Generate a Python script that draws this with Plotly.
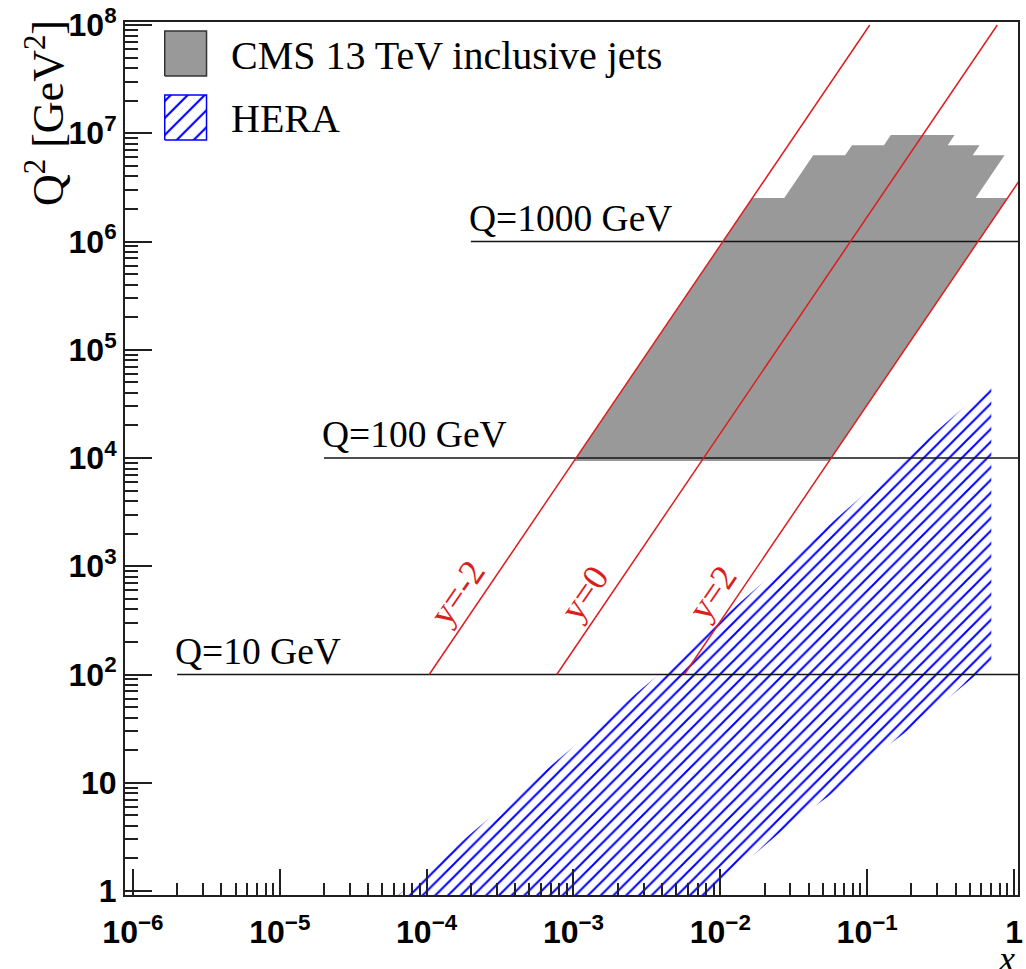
import numpy as np
import plotly.graph_objects as go

# ---------------------------------------------------------------- inputs
SQRT_S = 13000.0  # GeV, pp centre-of-mass energy

# CMS 13 TeV inclusive jets: |y| slice edges, lowest pT edge, highest pT edge per slice
cms_abs_y_edges = [0.0, 0.5, 1.0, 1.5, 2.0]
cms_pt_min = 97.0
cms_pt_max = [3103.0, 2787.0, 2500.0, 1588.0]

# HERA kinematic coverage outline
hera_x = [6.0e-5, 3.8e-3, 1.05e-2, 0.70, 0.70, 0.52, 0.26, 0.12, 0.058, 0.027, 0.0135, 0.0087, 0.0076]
hera_q2 = [0.85, 100.0, 340.0, 4.9e4, 123.0, 93.0, 42.0, 19.0, 8.0, 3.7, 1.67, 1.0, 0.85]

# fixed-scale reference lines
q_ref = [10, 100, 1000]
q_ref_xmin = [2e-6, 2e-5, 2e-4]
q_ref_xmax = 1.2

# jet-rapidity reference lines
y_ref = [-2, 0, 2]
y_ref_q2 = [1e2, 1e8]
y_label_q2 = 490.0

# axis ticks
x_tickvals = [1e-6, 1e-5, 1e-4, 1e-3, 1e-2, 1e-1, 1]
x_ticktext = ["10<sup>\u22126</sup>", "10<sup>\u22125</sup>", "10<sup>\u22124</sup>",
              "10<sup>\u22123</sup>", "10<sup>\u22122</sup>", "10<sup>\u22121</sup>", "1"]
y_tickvals = [1, 10, 1e2, 1e3, 1e4, 1e5, 1e6, 1e7, 1e8]
y_ticktext = ["1", "10", "10<sup>2</sup>", "10<sup>3</sup>", "10<sup>4</sup>",
              "10<sup>5</sup>", "10<sup>6</sup>", "10<sup>7</sup>", "10<sup>8</sup>"]


def x_of(q2, y):
    """Parton momentum fraction at scale Q^2 for jet rapidity y."""
    return np.sqrt(q2) / SQRT_S * np.exp(y)


def cms_outline():
    ymax = cms_abs_y_edges[-1]
    q2min = cms_pt_min ** 2
    pts = [(-ymax, q2min), (ymax, q2min)]
    n = len(cms_pt_max)
    # forward side, outermost slice first
    for i in range(n - 1, -1, -1):
        q2 = cms_pt_max[i] ** 2
        pts.append((cms_abs_y_edges[i + 1], q2))
        pts.append((cms_abs_y_edges[i], q2))
    # backward side, central slice first
    for i in range(n):
        q2 = cms_pt_max[i] ** 2
        pts.append((-cms_abs_y_edges[i], q2))
        pts.append((-cms_abs_y_edges[i + 1], q2))
    pts.append((-ymax, q2min))
    xs = [x_of(q, y) for y, q in pts]
    qs = [q for _, q in pts]
    return xs, qs


def minor_log(lo, hi):
    vals = []
    for e in range(lo, hi):
        for m in range(2, 10):
            vals.append(m * 10.0 ** e)
    return vals


SERIF = "Liberation Serif"
SANS = "Liberation Sans"
RED = "rgb(220,30,30)"
BLUE = "#0000ff"

fig = go.Figure()

# HERA coverage (hatched)
fig.add_trace(go.Scatter(
    x=hera_x, y=hera_q2, mode="lines", fill="toself",
    line=dict(width=0, color=BLUE),
    fillcolor="rgba(0,0,0,0)",
    fillpattern=dict(shape="/", fgcolor=BLUE, bgcolor="rgba(0,0,0,0)", fgopacity=1,
                     size=9, solidity=0.22),
    hoverinfo="skip", showlegend=False))

# CMS coverage (solid grey)
cx, cq = cms_outline()
fig.add_trace(go.Scatter(
    x=cx, y=cq, mode="lines", fill="toself",
    line=dict(width=0, color="#999999"), fillcolor="#999999",
    hoverinfo="skip", showlegend=False))

# constant-Q lines
for q, xmin in zip(q_ref, q_ref_xmin):
    fig.add_trace(go.Scatter(
        x=[xmin, q_ref_xmax], y=[q ** 2, q ** 2], mode="lines",
        line=dict(color="#151515", width=1.6), hoverinfo="skip", showlegend=False))
    fig.add_annotation(x=np.log10(xmin), y=np.log10(q ** 2), xref="x", yref="y",
                       text=f"Q={q} GeV", showarrow=False, xanchor="left", yanchor="bottom",
                       xshift=-4, yshift=1, font=dict(family=SERIF, size=37.5, color="black"))

# constant-rapidity lines
for yv in y_ref:
    xs = [x_of(q, yv) for q in y_ref_q2]
    fig.add_trace(go.Scatter(
        x=xs, y=y_ref_q2, mode="lines",
        line=dict(color=RED, width=1.5), hoverinfo="skip", showlegend=False))
    fig.add_annotation(x=np.log10(x_of(y_label_q2, yv)), y=np.log10(y_label_q2),
                       xref="x", yref="y", text=f"y={yv}", showarrow=False,
                       textangle=-55.7, xshift=-23, yshift=7,
                       font=dict(family=SERIF, size=36, color=RED))

# legend swatches drawn on an overlay axis spanning the plot area
fig.add_trace(go.Scatter(
    x=[0.0445, 0.0913, 0.0913, 0.0445, 0.0445], y=[0.9381, 0.9381, 0.9897, 0.9897, 0.9381],
    xaxis="x2", yaxis="y2", mode="lines", fill="toself",
    line=dict(color="#333333", width=1.5), fillcolor="#999999",
    hoverinfo="skip", showlegend=False))
fig.add_trace(go.Scatter(
    x=[0.0445, 0.0913, 0.0913, 0.0445, 0.0445], y=[0.8648, 0.8648, 0.9164, 0.9164, 0.8648],
    xaxis="x2", yaxis="y2", mode="lines", fill="toself",
    line=dict(color=BLUE, width=1.5), fillcolor="rgba(0,0,0,0)",
    fillpattern=dict(shape="/", fgcolor=BLUE, bgcolor="rgba(0,0,0,0)", fgopacity=1,
                     size=12, solidity=0.18),
    hoverinfo="skip", showlegend=False))
fig.add_annotation(x=0.117, y=0.962, xref="paper", yref="paper", text="CMS 13 TeV inclusive jets",
                   showarrow=False, xanchor="left", yanchor="middle",
                   font=dict(family=SERIF, size=40, color="black"))
fig.add_annotation(x=0.117, y=0.890, xref="paper", yref="paper", text="HERA",
                   showarrow=False, xanchor="left", yanchor="middle",
                   font=dict(family=SERIF, size=40, color="black"))

# axis titles
fig.add_annotation(x=0, y=1, xref="paper", yref="paper",
                   text="Q<sup>2</sup> [GeV<sup>2</sup>]", showarrow=False, textangle=-90,
                   xanchor="center", yanchor="top", xshift=-80, yshift=4,
                   font=dict(family=SERIF, size=44, color="black"))
fig.add_annotation(x=1, y=0, xref="paper", yref="paper", text="<i>x</i>", showarrow=False,
                   xanchor="right", yanchor="top", xshift=-1, yshift=-42,
                   font=dict(family=SERIF, size=36, color="black"))

tickfont = dict(family=SANS, size=32, color="black", weight="bold")
fig.update_layout(
    width=1026, height=969,
    margin=dict(l=125, r=3, t=22, b=74),
    paper_bgcolor="white", plot_bgcolor="white",
    showlegend=False,
    xaxis=dict(type="log", range=[-6.054, 0.027], showgrid=False, zeroline=False,
               showline=True, linecolor="#202020", linewidth=2, mirror=True,
               ticks="inside", ticklen=26, tickwidth=1.5, tickcolor="#202020",
               tickmode="array", tickvals=x_tickvals, ticktext=x_ticktext, tickfont=tickfont,
               ticklabelstandoff=8,
               minor=dict(ticks="inside", ticklen=12, tickwidth=1.5, tickcolor="#202020",
                          tickmode="array", tickvals=minor_log(-6, 0), showgrid=False)),
    yaxis=dict(type="log", range=[-0.037, 8.028], showgrid=False, zeroline=False,
               showline=True, linecolor="#202020", linewidth=2, mirror=True,
               ticks="inside", ticklen=27, tickwidth=1.5, tickcolor="#202020",
               tickmode="array", tickvals=y_tickvals, ticktext=y_ticktext, tickfont=tickfont,
               minor=dict(ticks="inside", ticklen=13, tickwidth=1.5, tickcolor="#202020",
                          tickmode="array", tickvals=minor_log(0, 8), showgrid=False)),
    xaxis2=dict(overlaying="x", range=[0, 1], visible=False, fixedrange=True),
    yaxis2=dict(overlaying="y", range=[0, 1], visible=False, fixedrange=True),
)

fig.write_html("out.html")
